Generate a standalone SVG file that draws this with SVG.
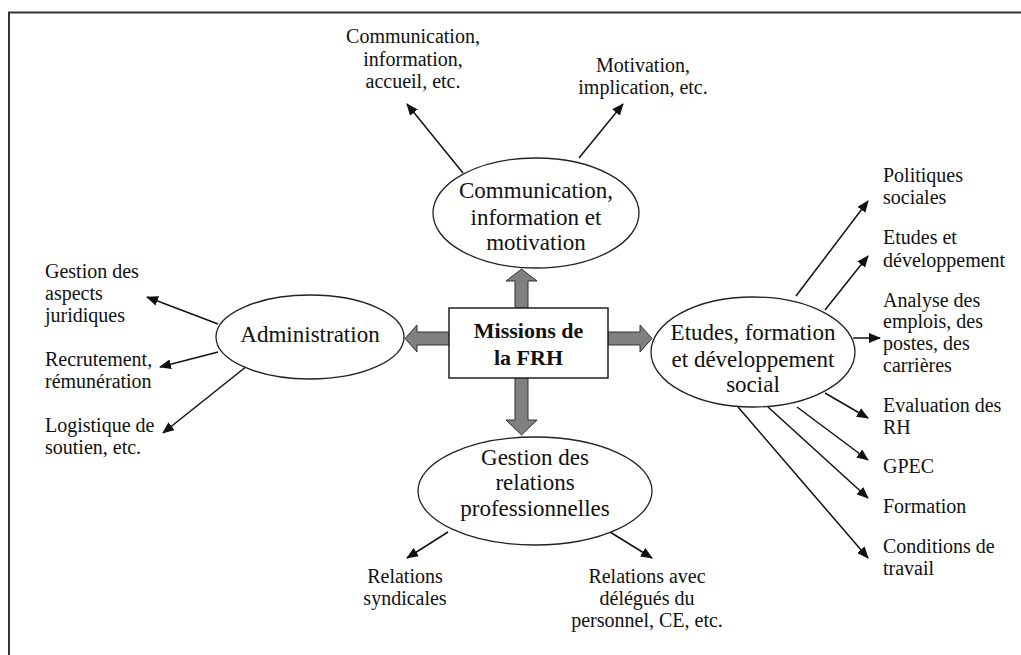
<svg xmlns="http://www.w3.org/2000/svg" width="1021" height="655" viewBox="0 0 1021 655">
<style>
text{font-family:"Liberation Serif","Times New Roman",serif;fill:#111}
.lbl{font-size:20px}
.el{font-size:23px;text-anchor:middle}
.ctr{font-size:22px;font-weight:bold;text-anchor:middle}
.mid{text-anchor:middle}
ellipse{fill:#fff;stroke:#222;stroke-width:1.3}
.conn line{stroke:#111;stroke-width:1.5;marker-end:url(#ah)}
.big{fill:#808080;stroke:#333;stroke-width:1}
</style>
<defs>
<marker id="ah" viewBox="0 0 12 10" refX="11" refY="5" markerWidth="12" markerHeight="10" markerUnits="userSpaceOnUse" orient="auto">
<path d="M0,0 L12,5 L0,10 Z" fill="#111"/>
</marker>
</defs>
<rect width="1021" height="655" fill="#fff"/>
<path d="M9,655 V12.5 H1021" fill="none" stroke="#333" stroke-width="2"/>

<g id="connectors" class="conn">
<line x1="463" y1="173" x2="407" y2="104"/>
<line x1="579" y1="158" x2="623" y2="104"/>
<line x1="218" y1="324" x2="147" y2="297"/>
<line x1="218" y1="352" x2="160" y2="367"/>
<line x1="247" y1="366" x2="163" y2="433"/>
<line x1="448" y1="532" x2="407" y2="558"/>
<line x1="610" y1="532" x2="652" y2="558"/>
<line x1="796" y1="296" x2="868" y2="201"/>
<line x1="825" y1="310" x2="868" y2="256"/>
<line x1="853" y1="338" x2="880" y2="338"/>
<line x1="825" y1="393" x2="868" y2="418"/>
<line x1="797" y1="407" x2="868" y2="460"/>
<line x1="768" y1="407" x2="868" y2="498"/>
<line x1="738" y1="407" x2="868" y2="558"/>
</g>

<g id="block-arrows">
<polygon class="big" points="449,332 417,332 417,325 405,338.5 417,352 417,345 449,345"/>
<polygon class="big" points="608,332 640,332 640,325 652,338.5 640,352 640,345 608,345"/>
<polygon class="big" points="515,308 515,281 506,281 521.5,269 537,281 528,281 528,308"/>
<polygon class="big" points="515,378 515,420 506,420 521.5,435 537,420 528,420 528,378"/>
</g>

<g id="center">
<rect x="449" y="308" width="159" height="70" fill="#fff" stroke="#222" stroke-width="1.5"/>
<text class="ctr" x="528.5" y="338">Missions de</text>
<text class="ctr" x="528.5" y="365">la FRH</text>
</g>

<g id="communication">
<ellipse cx="536" cy="213" rx="103" ry="55"/>
<text class="el" x="536" y="198">Communication,</text>
<text class="el" x="536" y="225">information et</text>
<text class="el" x="536" y="250">motivation</text>
</g>

<g id="administration">
<ellipse cx="310" cy="337" rx="94" ry="42"/>
<text class="el" x="310" y="342">Administration</text>
</g>

<g id="etudes">
<ellipse cx="753" cy="352" rx="102" ry="55"/>
<text class="el" x="753" y="340">Etudes, formation</text>
<text class="el" x="753" y="367">et développement</text>
<text class="el" x="753" y="392">social</text>
</g>

<g id="relations">
<ellipse cx="535" cy="491" rx="117" ry="54"/>
<text class="el" x="535" y="465">Gestion des</text>
<text class="el" x="535" y="490">relations</text>
<text class="el" x="535" y="516">professionnelles</text>
</g>

<g id="top-labels" class="lbl">
<text class="lbl mid" x="413" y="43">Communication,</text>
<text class="lbl mid" x="413" y="66">information,</text>
<text class="lbl mid" x="413" y="88">accueil, etc.</text>
<text class="lbl mid" x="643" y="72">Motivation,</text>
<text class="lbl mid" x="643" y="94">implication, etc.</text>
</g>

<g id="left-labels">
<text class="lbl" x="45" y="278">Gestion des</text>
<text class="lbl" x="45" y="300">aspects</text>
<text class="lbl" x="45" y="322">juridiques</text>
<text class="lbl" x="45" y="366">Recrutement,</text>
<text class="lbl" x="45" y="388">rémunération</text>
<text class="lbl" x="45" y="432">Logistique de</text>
<text class="lbl" x="45" y="454">soutien, etc.</text>
</g>

<g id="bottom-labels">
<text class="lbl mid" x="405" y="583">Relations</text>
<text class="lbl mid" x="405" y="605">syndicales</text>
<text class="lbl mid" x="647" y="583">Relations avec</text>
<text class="lbl mid" x="647" y="605">délégués du</text>
<text class="lbl mid" x="647" y="627">personnel, CE, etc.</text>
</g>

<g id="right-labels">
<text class="lbl" x="883" y="182">Politiques</text>
<text class="lbl" x="883" y="204">sociales</text>
<text class="lbl" x="883" y="244">Etudes et</text>
<text class="lbl" x="883" y="267">développement</text>
<text class="lbl" x="883" y="307">Analyse des</text>
<text class="lbl" x="883" y="328">emplois, des</text>
<text class="lbl" x="883" y="350">postes, des</text>
<text class="lbl" x="883" y="372">carrières</text>
<text class="lbl" x="883" y="412">Evaluation des</text>
<text class="lbl" x="883" y="434">RH</text>
<text class="lbl" x="883" y="473">GPEC</text>
<text class="lbl" x="883" y="513">Formation</text>
<text class="lbl" x="883" y="553">Conditions de</text>
<text class="lbl" x="883" y="575">travail</text>
</g>
</svg>
